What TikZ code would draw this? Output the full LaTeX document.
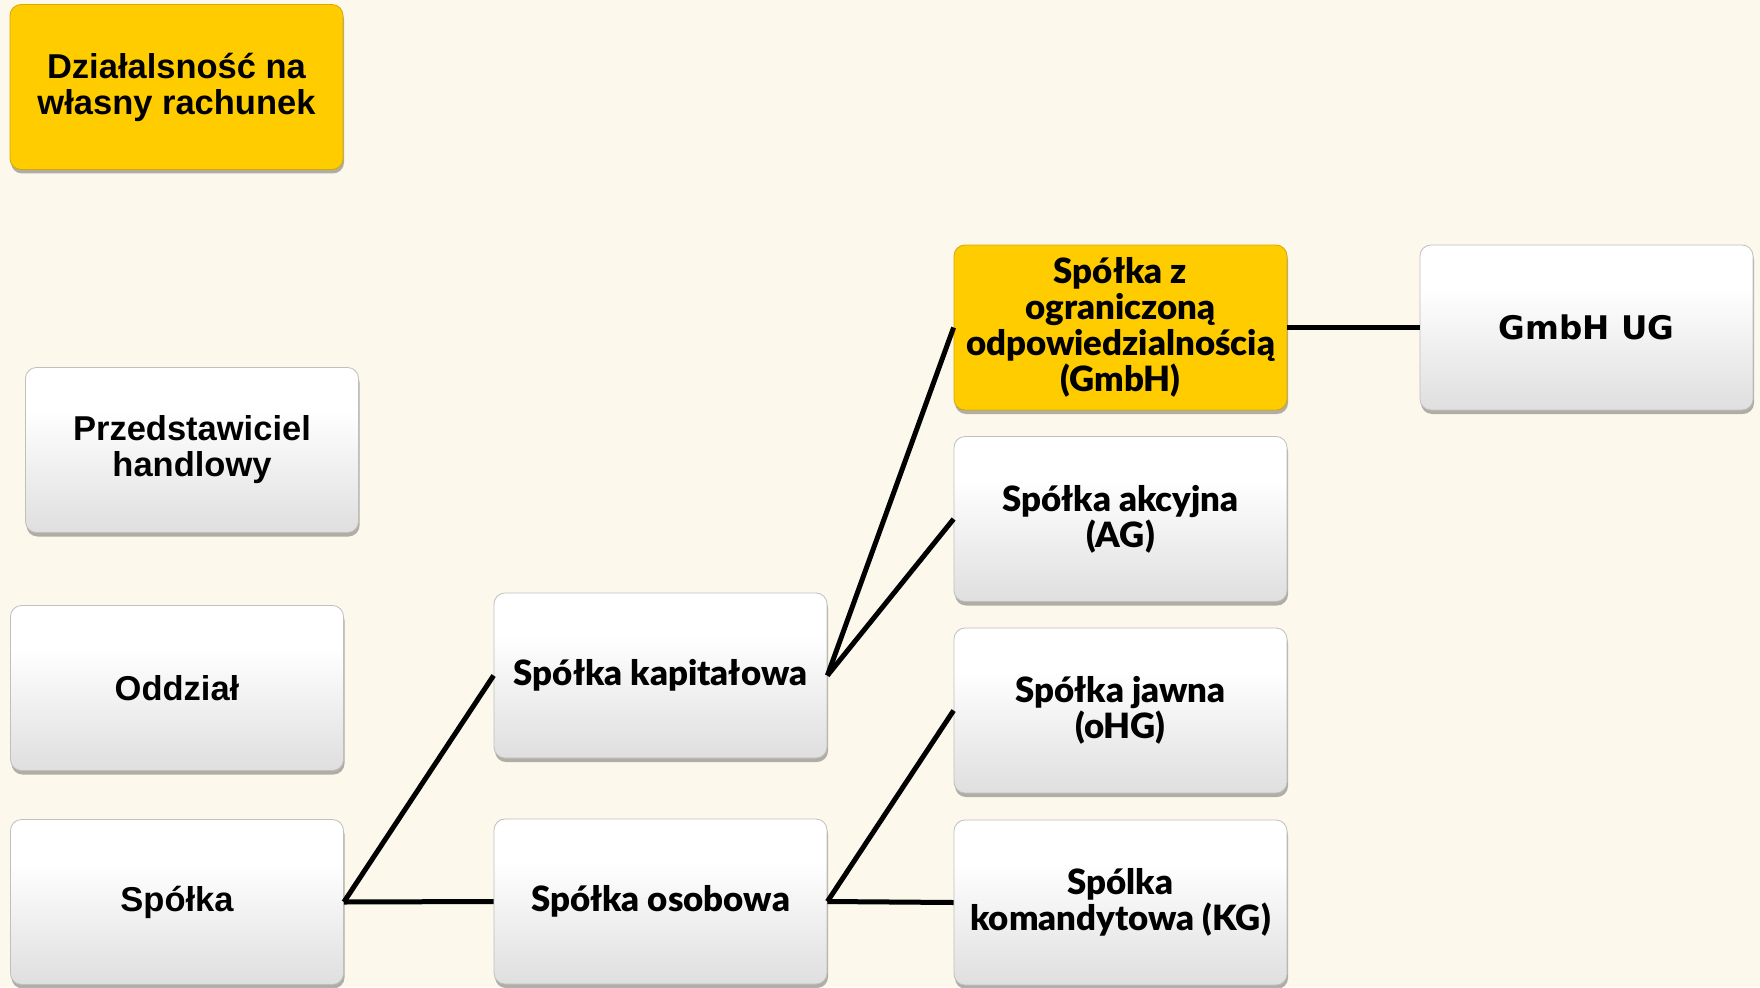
\documentclass[tikz,border=0pt]{standalone}
\usepackage{fontspec}
\setmainfont{Liberation Sans}
\newfontfamily\gillfont{Lato}[BoldFont={Lato Black}]
\newfontfamily\verdfont{DejaVu Sans}
\usetikzlibrary{shadows}
\definecolor{bg}{RGB}{252,248,236}
\definecolor{gold}{RGB}{255,204,0}
\definecolor{goldedge}{RGB}{214,168,0}
\pgfdeclareverticalshading{boxshade}{100bp}{color(0bp)=(black!20); color(30bp)=(black!11); color(62bp)=(white); color(100bp)=(white)}
\tikzset{
  box/.style={rectangle, rounded corners=11pt, minimum width=333pt, minimum height=165pt,
    align=center, inner sep=2pt, draw=black!25, line width=0.8pt,
    drop shadow={shadow xshift=1pt, shadow yshift=-4pt, opacity=0.3, fill=black},
    font=\fontsize{34.5}{36}\selectfont\bfseries},
  graybox/.style={box, shading=boxshade},
  goldbox/.style={box, fill=gold, draw=goldedge},
  gill/.style={font=\fontsize{34.8}{36}\selectfont\gillfont\bfseries},
  link/.style={line width=5pt, black}
}
\begin{document}
\begin{tikzpicture}[x=1pt,y=-1pt]
\useasboundingbox[fill=bg] (0,0) rectangle (1760,987);
\node[goldbox] (dz) at (176.5,87) {Działalsność na\\własny rachunek};
\node[graybox] (ph) at (192,450) {Przedstawiciel\\handlowy};
\node[graybox] (od) at (177,688) {Oddział};
\node[graybox] (sp) at (177,902) {Spółka};
\node[graybox,gill] (kap) at (660.5,675.5) {Spółka kapitałowa};
\node[graybox,gill] (oso) at (660.5,901.5) {Spółka osobowa};
\node[goldbox,gill] (gmbh) at (1120.5,327.5) {Spółka z\\ograniczoną\\odpowiedzialnością\\(GmbH)};
\node[graybox,gill] (ag) at (1120.5,519) {Spółka akcyjna\\(AG)};
\node[graybox,gill] (ohg) at (1120.5,710.5) {Spółka jawna\\(oHG)};
\node[graybox,gill] (kg) at (1120.5,902.5) {Spólka\\komandytowa (KG)};
\node[graybox,font=\fontsize{32.5}{36}\selectfont\verdfont\bfseries] (ug) at (1586.5,327.5) {GmbH UG};
\draw[link] (sp.east) -- (kap.west);
\draw[link] (sp.east) -- (oso.west);
\draw[link] (kap.east) -- (gmbh.west);
\draw[link] (kap.east) -- (ag.west);
\draw[link] (oso.east) -- (ohg.west);
\draw[link] (oso.east) -- (kg.west);
\draw[link] (gmbh.east) -- (ug.west);
\end{tikzpicture}
\end{document}
